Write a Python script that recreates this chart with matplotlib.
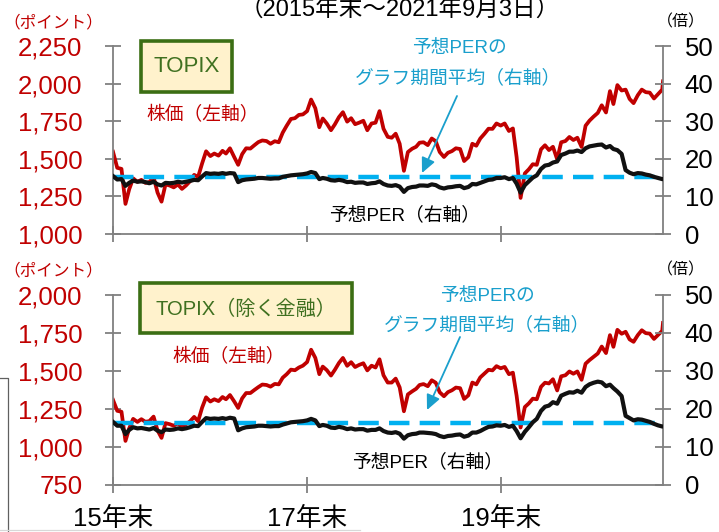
import matplotlib
matplotlib.use("Agg")
import matplotlib.pyplot as plt
import pandas as pd
from matplotlib.patches import Rectangle
from matplotlib.lines import Line2D

plt.rcParams['font.family'] = ['Liberation Sans', 'Noto Sans CJK JP', 'DejaVu Sans']

# ---------------- data ----------------
start_date = '2015-12-30'
end_date = '2021-09-03'

# semi-monthly observations (15th and month end), plus first/last day
topix_price = [1547,
    1440, 1433, 1200, 1297, 1370, 1347, 1360, 1340, 1345, 1379, 1275, 1215,
    1330, 1322, 1310, 1329, 1300, 1322, 1350, 1393, 1380, 1469, 1550, 1518,
    1535, 1521, 1553, 1535, 1570, 1512, 1460, 1531, 1570, 1568, 1590, 1611,
    1622, 1618, 1600, 1617, 1610, 1674, 1720, 1765, 1770, 1792, 1795, 1817,
    1894, 1836, 1710, 1768, 1735, 1690, 1730, 1777, 1810, 1747, 1770, 1730,
    1740, 1753, 1690, 1735, 1740, 1817, 1700, 1646, 1640, 1667, 1600, 1420,
    1545, 1567, 1580, 1607, 1610, 1591, 1635, 1617, 1545, 1512, 1540, 1551,
    1570, 1565, 1485, 1511, 1600, 1587, 1635, 1667, 1700, 1699, 1735, 1721,
    1735, 1685, 1702, 1511, 1240, 1403, 1430, 1464, 1460, 1563, 1590, 1558,
    1580, 1496, 1610, 1618, 1645, 1625, 1640, 1579, 1720, 1754, 1780, 1805,
    1856, 1808, 1950, 1864, 1990, 1954, 1960, 1898, 1870, 1923, 1960, 1943,
    1940, 1901, 1930, 1960,
    2015]

topix_per = [15.4,
    14.5, 14.6, 12.8, 13.6, 14.2, 13.9, 14.0, 13.8, 13.5, 13.9, 13.2, 12.9,
    13.6, 13.5, 13.6, 13.9, 13.7, 13.9, 14.1, 14.4, 14.3, 15.3, 16.2, 16.0,
    16.1, 16.0, 16.2, 16.0, 16.2, 16.1, 13.8, 14.3, 14.5, 14.6, 14.7, 14.9,
    14.9, 14.8, 14.7, 14.8, 14.8, 15.2, 15.4, 15.6, 15.7, 15.8, 15.9, 16.1,
    16.5, 16.2, 14.6, 14.9, 14.7, 14.3, 14.2, 14.4, 14.2, 13.8, 13.9, 13.6,
    13.7, 13.7, 13.3, 13.5, 13.6, 14.0, 13.3, 12.9, 12.8, 13.0, 12.6, 11.2,
    12.2, 12.5, 12.6, 12.9, 12.9, 12.8, 13.2, 13.0, 12.4, 12.1, 12.4, 12.5,
    12.7, 12.8, 12.2, 12.5, 13.3, 13.2, 13.6, 14.0, 14.4, 14.5, 14.9, 14.9,
    15.1, 14.6, 14.9, 13.4, 11.0, 13.0, 14.0, 15.0, 15.6, 17.3, 18.2, 18.4,
    19.0, 19.3, 21.0, 21.4, 21.9, 21.9, 22.2, 21.8, 22.8, 23.3, 23.5, 23.7,
    23.8, 23.0, 23.4, 22.6, 22.3, 21.3, 17.0, 16.3, 15.9, 16.2, 16.1, 15.8,
    15.6, 15.2, 14.9, 14.6,
    14.6]

exfin_price = [1310,
    1238, 1232, 1040, 1122, 1185, 1165, 1183, 1166, 1170, 1200, 1109, 1060,
    1157, 1150, 1140, 1156, 1131, 1150, 1168, 1198, 1170, 1259, 1327, 1299,
    1314, 1302, 1329, 1314, 1342, 1300, 1257, 1320, 1355, 1355, 1375, 1394,
    1411, 1408, 1397, 1415, 1412, 1456, 1479, 1509, 1505, 1523, 1535, 1559,
    1640, 1586, 1479, 1529, 1506, 1470, 1509, 1553, 1586, 1534, 1558, 1526,
    1540, 1551, 1504, 1535, 1523, 1577, 1472, 1424, 1424, 1450, 1392, 1235,
    1346, 1366, 1383, 1408, 1414, 1400, 1439, 1423, 1360, 1334, 1361, 1373,
    1391, 1387, 1316, 1340, 1424, 1412, 1458, 1484, 1508, 1504, 1532, 1518,
    1527, 1479, 1489, 1337, 1128, 1263, 1287, 1318, 1314, 1396, 1423, 1418,
    1446, 1372, 1465, 1472, 1497, 1482, 1497, 1442, 1548, 1572, 1593, 1615,
    1661, 1618, 1736, 1659, 1771, 1745, 1758, 1708, 1692, 1736, 1768, 1749,
    1746, 1711, 1737, 1764,
    1816]

exfin_per = [16.6,
    15.6, 15.6, 13.4, 14.5, 15.2, 14.9, 15.0, 14.8, 14.6, 15.0, 14.3, 13.9,
    14.6, 14.5, 14.6, 14.9, 14.7, 14.9, 15.2, 15.6, 15.5, 16.6, 17.6, 17.4,
    17.5, 17.4, 17.6, 17.4, 17.7, 17.5, 14.4, 14.9, 15.2, 15.3, 15.4, 15.6,
    15.6, 15.5, 15.4, 15.5, 15.5, 15.9, 16.2, 16.5, 16.6, 16.7, 16.8, 17.0,
    17.4, 17.0, 15.5, 15.8, 15.6, 15.1, 15.0, 15.3, 15.1, 14.7, 14.9, 14.6,
    14.7, 14.7, 14.3, 14.5, 14.5, 14.9, 14.2, 13.8, 13.7, 13.9, 13.5, 12.2,
    13.1, 13.4, 13.5, 13.8, 13.8, 13.7, 13.6, 13.4, 12.9, 12.6, 12.9, 13.0,
    13.2, 13.3, 12.7, 13.0, 13.8, 13.8, 14.2, 14.8, 15.3, 15.4, 15.7, 15.6,
    15.8, 15.3, 15.6, 14.2, 12.3, 14.0, 15.2, 16.5, 17.4, 19.5, 20.6, 20.9,
    21.8, 21.4, 23.5, 24.0, 24.4, 24.3, 24.8, 24.3, 25.8, 26.5, 26.9, 27.2,
    27.0, 26.0, 26.4, 25.5, 24.6, 23.4, 18.2, 17.6, 17.0, 17.3, 17.2, 16.9,
    16.6, 16.1, 15.7, 15.4,
    15.4]

topix_per_avg = 15.2
exfin_per_avg = 16.3

top_left_ticks = [1000, 1250, 1500, 1750, 2000, 2250]
bot_left_ticks = [750, 1000, 1250, 1500, 1750, 2000]
right_ticks = [0, 10, 20, 30, 40, 50]
x_tick_dates = ['2015-12-31', '2017-12-31', '2019-12-31']
x_tick_labels = ['15年末', '17年末', '19年末']

# dates: start, then 15th and month-end of each month, then last date
dates = [pd.Timestamp(start_date)]
for yr in range(2016, 2022):
    for mo in range(1, 13):
        if yr == 2021 and mo > 8:
            break
        dates.append(pd.Timestamp(yr, mo, 15))
        dates.append(pd.Timestamp(yr, mo, 1) + pd.offsets.MonthEnd(0))
dates.append(pd.Timestamp(end_date))

# ---------------- style ----------------
RED = '#C00000'
CYAN_LINE = '#00B0F0'
CYAN_TXT = '#1A9FCC'
GRAY = '#808080'
GREEN_EDGE = '#3B6E14'
GREEN_TXT = '#3F7020'
BOX_FILL = '#FFF2CC'

W, H = 719, 532
fig = plt.figure(figsize=(W / 100, H / 100), dpi=100)


def fx(x):
    return x / W


def fy(y):
    return 1 - y / H


def make_panel(top_px, bot_px, price, per, avg, lticks, show_xlabels):
    ax = fig.add_axes([fx(113), fy(bot_px), fx(663) - fx(113), fy(top_px) - fy(bot_px)])
    axr = ax.twinx()
    ax.plot(dates, price, color=RED, lw=2.7, solid_joinstyle='round', zorder=2)
    axr.axhline(avg, color=CYAN_LINE, lw=3.2, dashes=(4.6, 2.3), zorder=2)
    axr.plot(dates, per, color='#111111', lw=3.0, solid_joinstyle='round', zorder=3)

    ax.set_xlim(pd.Timestamp(start_date), pd.Timestamp(end_date))
    ax.set_ylim(lticks[0], lticks[-1])
    axr.set_ylim(right_ticks[0], right_ticks[-1])
    ax.set_yticks(lticks)
    ax.set_yticklabels([f"{v:,}" for v in lticks])
    axr.set_yticks(right_ticks)
    axr.set_yticklabels([str(v) for v in right_ticks])
    ax.set_xticks(pd.to_datetime(x_tick_dates))
    if show_xlabels:
        ax.set_xticklabels(x_tick_labels)
    else:
        ax.set_xticklabels([])

    for a in (ax, axr):
        a.spines['top'].set_visible(False)
        for s in ('left', 'right', 'bottom'):
            a.spines[s].set_color(GRAY)
            a.spines[s].set_linewidth(1.3)
        a.patch.set_visible(False)
    ax.spines['right'].set_visible(False)
    axr.spines['left'].set_visible(False)
    axr.spines['bottom'].set_visible(False)

    ax.tick_params(axis='y', direction='inout', length=11, width=1.3, color=GRAY,
                   labelcolor=RED, labelsize=18.5, pad=16.5)
    ax.tick_params(axis='x', direction='inout', length=11, width=1.3, color=GRAY,
                   labelcolor='black', labelsize=18.5, pad=10)
    axr.tick_params(axis='y', direction='inout', length=11, width=1.3, color=GRAY,
                    labelcolor='black', labelsize=18.5, pad=10)
    return ax, axr


make_panel(46, 234, topix_price, topix_per, topix_per_avg, top_left_ticks, False)
make_panel(295, 485, exfin_price, exfin_per, exfin_per_avg, bot_left_ticks, True)

# ---------------- texts ----------------
fig.text(fx(400), fy(16), '（2015年末～2021年9月3日）', ha='center', va='baseline',
         fontsize=17, color='black')

for ypx in (22, 270):
    fig.text(fx(53), fy(ypx), '（ポイント）', ha='center', va='center', fontsize=12, color=RED)
    fig.text(fx(681), fy(ypx), '（倍）', ha='center', va='center', fontsize=11.5, color='black')

# boxes
fig.add_artist(Rectangle((fx(141), fy(92)), fx(232) - fx(141), fy(41) - fy(92),
                         transform=fig.transFigure, facecolor=BOX_FILL,
                         edgecolor=GREEN_EDGE, linewidth=2.6, zorder=5))
fig.text(fx(186.5), fy(67), 'TOPIX', ha='center', va='center', fontsize=16,
         color=GREEN_TXT, zorder=6)
fig.add_artist(Rectangle((fx(140), fy(333)), fx(352) - fx(140), fy(283) - fy(333),
                         transform=fig.transFigure, facecolor=BOX_FILL,
                         edgecolor=GREEN_EDGE, linewidth=2.6, zorder=5))
fig.text(fx(246), fy(309), 'TOPIX（除く金融）', ha='center', va='center', fontsize=14.5,
         color=GREEN_TXT, zorder=6)

# series labels
fig.text(fx(203), fy(115), '株価（左軸）', ha='center', va='center', fontsize=13.5, color=RED)
fig.text(fx(229), fy(357), '株価（左軸）', ha='center', va='center', fontsize=13.5, color=RED)
fig.text(fx(405), fy(215), '予想PER（右軸）', ha='center', va='center', fontsize=13.5, color='black')
fig.text(fx(428), fy(462), '予想PER（右軸）', ha='center', va='center', fontsize=13.5, color='black')

fig.text(fx(459), fy(48), '予想PERの', ha='center', va='center', fontsize=13.5, color=CYAN_TXT)
fig.text(fx(458), fy(78), 'グラフ期間平均（右軸）', ha='center', va='center', fontsize=13.5, color=CYAN_TXT)
fig.text(fx(487), fy(297), '予想PERの', ha='center', va='center', fontsize=13.5, color=CYAN_TXT)
fig.text(fx(487), fy(325), 'グラフ期間平均（右軸）', ha='center', va='center', fontsize=13.5, color=CYAN_TXT)

arrow_kw = dict(arrowstyle='-|>,head_length=0.9,head_width=0.42', color=CYAN_TXT,
                lw=1.3, shrinkA=0, shrinkB=0)
fig.add_artist(plt.Annotation('', xy=(fx(422), fy(173)), xytext=(fx(457), fy(96)),
                              xycoords='figure fraction', textcoords='figure fraction',
                              arrowprops=arrow_kw))
fig.add_artist(plt.Annotation('', xy=(fx(427), fy(410)), xytext=(fx(460), fy(337)),
                              xycoords='figure fraction', textcoords='figure fraction',
                              arrowprops=arrow_kw))

# stray frame fragment at lower left
fig.add_artist(Line2D([fx(0), fx(8), fx(8)], [fy(378), fy(378), fy(532)],
                      transform=fig.transFigure, color='#606060', lw=0.9))
fig.add_artist(Line2D([fx(0), fx(360)], [fy(530), fy(530)],
                      transform=fig.transFigure, color='#D8D8D8', lw=0.9))

fig.savefig('out.png', dpi=100)
